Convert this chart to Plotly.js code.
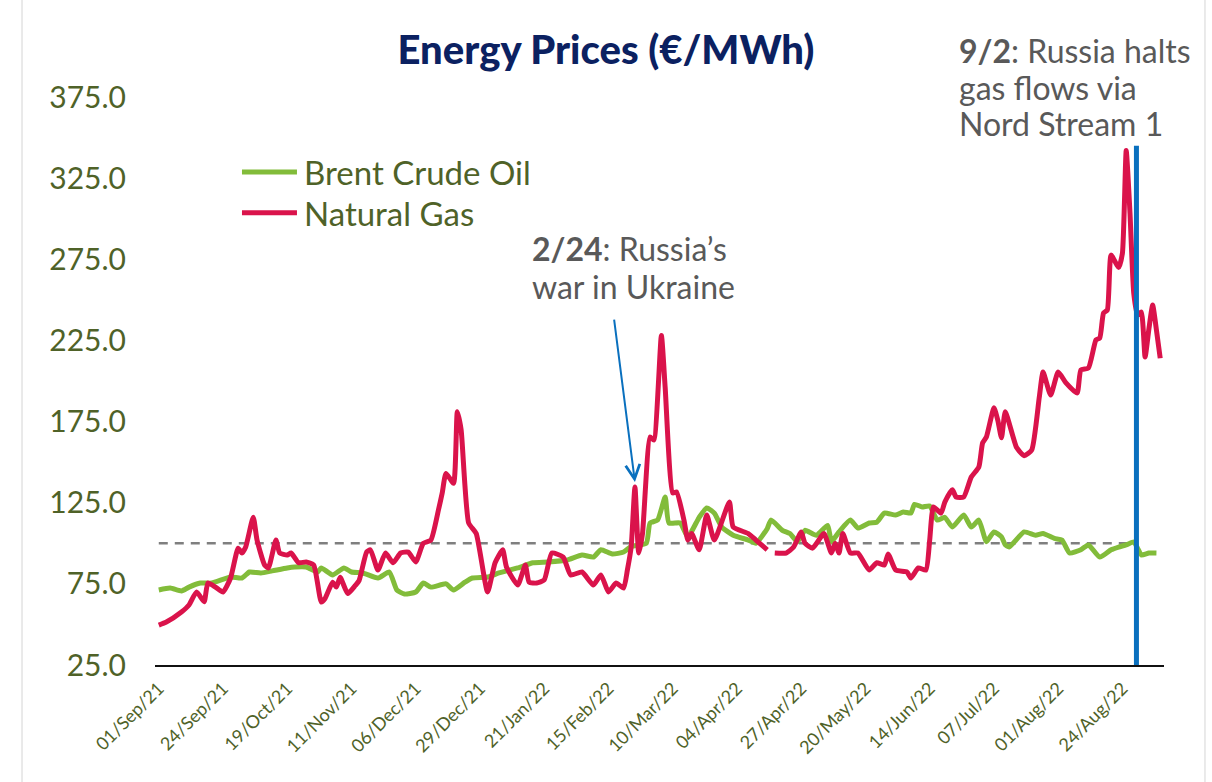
<!DOCTYPE html>
<html>
<head>
<meta charset="utf-8">
<script src="https://cdn.plot.ly/plotly-3.0.1.min.js"></script>
<style>
  html, body { margin: 0; padding: 0; background: #ffffff; }
  #chart { width: 1212px; height: 782px; }
</style>
</head>
<body>
<div id="chart"></div>
<script>
// ---------- data ----------
const gasDates = ['2021-09-01','2021-09-03','2021-09-09','2021-09-13','2021-09-15','2021-09-17','2021-09-20','2021-09-22','2021-09-24','2021-09-28',
'2021-09-30','2021-10-01','2021-10-04','2021-10-06','2021-10-07','2021-10-11','2021-10-12','2021-10-14','2021-10-15','2021-10-19',
'2021-10-20','2021-10-22','2021-10-26','2021-10-28','2021-11-01','2021-11-02','2021-11-04','2021-11-05','2021-11-08','2021-11-10',
'2021-11-12','2021-11-15','2021-11-17','2021-11-18','2021-11-22','2021-11-24','2021-11-26','2021-11-30','2021-12-02','2021-12-06',
'2021-12-08','2021-12-10','2021-12-14','2021-12-15','2021-12-16','2021-12-20','2021-12-21','2021-12-22','2021-12-24','2021-12-28',
'2021-12-31','2022-01-04','2022-01-06','2022-01-07','2022-01-12','2022-01-14','2022-01-17','2022-01-19','2022-01-21','2022-01-25',
'2022-01-28','2022-02-01','2022-02-04','2022-02-09','2022-02-11','2022-02-15','2022-02-17','2022-02-21','2022-02-22','2022-02-23',
'2022-02-24','2022-02-25','2022-02-28','2022-03-02','2022-03-03','2022-03-07','2022-03-08','2022-03-10','2022-03-11','2022-03-15',
'2022-03-16','2022-03-17','2022-03-21','2022-03-23','2022-03-25','2022-03-31','2022-04-01','2022-04-07','2022-04-11','2022-04-14',
'2022-04-15','2022-04-18','2022-04-21','2022-04-25','2022-04-27','2022-04-28','2022-05-02','2022-05-05','2022-05-09','2022-05-10',
'2022-05-11','2022-05-12','2022-05-16','2022-05-18','2022-05-23','2022-05-25','2022-05-27','2022-05-30','2022-06-01','2022-06-06',
'2022-06-07','2022-06-09','2022-06-13','2022-06-14','2022-06-15','2022-06-17','2022-06-20','2022-06-22','2022-06-23','2022-06-27',
'2022-06-29','2022-07-01','2022-07-04','2022-07-05','2022-07-07','2022-07-08','2022-07-11','2022-07-12','2022-07-15','2022-07-19',
'2022-07-21','2022-07-25','2022-07-26','2022-07-28','2022-08-01','2022-08-03','2022-08-08','2022-08-09','2022-08-11','2022-08-15',
'2022-08-16','2022-08-17','2022-08-18','2022-08-19','2022-08-23','2022-08-24','2022-08-25','2022-08-26','2022-08-29','2022-08-30',
'2022-08-31','2022-09-01','2022-09-02','2022-09-05','2022-09-06','2022-09-07'];
const gasValues = [49.6,51.5,57.7,62,70,64,75.5,73,70,78.6,
97,94,97.7,116,102,86.6,84.8,102,94,92.8,
94,88,88.5,86.6,63.8,66,76,73,79,69,
74,77,94.6,96,83.5,94,88,94,94.6,88.5,
100,102,120.5,131,143,137,181,170,112.5,106,
70,88,96,85.4,74.3,86.6,76,75.5,77.4,94,
91.5,80.5,82.3,74.3,80.5,70,75.5,72.4,83.5,97.7,
134.7,94,106,165.5,163.6,228,196,131,131.6,114,
102,106,96,117.4,102,125.4,110,106,102,96,
null,94,94,97.7,107,100,97,106,94,100,
94,106,94,94,83.5,88,86.6,93.4,83.5,82.3,
78.6,84.8,83.5,102,122.4,118.6,125.4,133,128.5,128.5,
140.8,147,161.8,165.5,183.5,176,165,181,159,154,
157.5,190,205.5,191.3,205.5,199,192.6,206.8,208,225.3,
226.5,241.9,243.7,277.6,270,278.8,342,303.5,254,240.6,
242.5,214.8,232,246.8,231.4,214];

const oilDates = ['2021-09-01','2021-09-06','2021-09-09','2021-09-13','2021-09-16','2021-09-21','2021-09-28','2021-10-01','2021-10-05','2021-10-08',
'2021-10-13','2021-10-19','2021-10-21','2021-10-26','2021-10-29','2021-11-01','2021-11-04','2021-11-09','2021-11-11','2021-11-16',
'2021-11-22','2021-11-25','2021-11-29','2021-12-01','2021-12-06','2021-12-08','2021-12-10','2021-12-16','2021-12-20','2021-12-23',
'2021-12-27','2021-12-31','2022-01-05','2022-01-12','2022-01-18','2022-01-24','2022-01-31','2022-02-04','2022-02-09','2022-02-11',
'2022-02-16','2022-02-21','2022-02-23','2022-03-01','2022-03-02','2022-03-04','2022-03-08','2022-03-09','2022-03-14','2022-03-16',
'2022-03-21','2022-03-23','2022-03-25','2022-03-29','2022-04-01','2022-04-07','2022-04-11','2022-04-14','2022-04-15','2022-04-20',
'2022-04-22','2022-04-26','2022-04-28','2022-05-03','2022-05-06','2022-05-09','2022-05-11','2022-05-16','2022-05-18','2022-05-23',
'2022-05-25','2022-05-27','2022-06-01','2022-06-03','2022-06-07','2022-06-08','2022-06-10','2022-06-14','2022-06-16','2022-06-20',
'2022-06-22','2022-06-27','2022-06-29','2022-07-01','2022-07-05','2022-07-07','2022-07-11','2022-07-12','2022-07-13','2022-07-19',
'2022-07-22','2022-07-26','2022-07-29','2022-08-02','2022-08-04','2022-08-09','2022-08-11','2022-08-16','2022-08-19','2022-08-23',
'2022-08-25','2022-08-29','2022-08-30','2022-08-31','2022-09-02','2022-09-06'];
const oilValues = [71.2,72.4,70.6,73,75.5,75.5,79.2,78.6,82.3,81.7,
83,84.8,85.4,85.4,82.3,84.8,80.5,84.8,82.3,81.7,
78.6,82.3,71.2,68.7,70,75.5,73,75,71.2,76,
78.6,79.2,81.7,84.8,88,88.5,89.7,92.8,91.5,96,
93.4,94.6,98,100,112.5,114.3,128.5,112.5,112.5,104,
116,121.7,118.6,110,105,102,100,109,114.3,108,
106,101,108,105,111,101,107,114.3,109.4,112.5,
113,118.6,117.4,119.3,118.6,124,122.4,123,114.3,116,
110,117.4,110,114.3,101,107,104,99,97.7,107,
105,106,103,102,94,96,99,91.5,96,97.7,
99,100.8,97,92.8,94,94];

const seriesNames = ['Brent Crude Oil', 'Natural Gas'];
const tickDates = ['2021-09-01','2021-09-24','2021-10-19','2021-11-11','2021-12-06','2021-12-29','2022-01-21','2022-02-15',
'2022-03-10','2022-04-04','2022-04-27','2022-05-20','2022-06-14','2022-07-07','2022-08-01','2022-08-24'];
const tickLabels = ['01/Sep/21','24/Sep/21','19/Oct/21','11/Nov/21','06/Dec/21','29/Dec/21','21/Jan/22','15/Feb/22',
'10/Mar/22','04/Apr/22','27/Apr/22','20/May/22','14/Jun/22','07/Jul/22','01/Aug/22','24/Aug/22'];
const referenceLevel = 100;
const warDate = '2022-02-24';
const warValue = 137.7;
const nordStreamMarker = '2022-08-29 17:00';
const warNote = ['<b>2/24</b>: Russia’s', 'war in Ukraine'];
const nordNote = ['<b>9/2</b>: Russia halts', 'gas flows via', 'Nord Stream 1'];

// ---------- style ----------
const GREEN = '#82BC3A';
const RED = '#DA134B';
const OLIVE = '#4F6228';
const GRAY = '#595959';
const BLUE = '#0A70BE';
const FONT = 'Lato, "Open Sans", sans-serif';

const traces = [
  { x: oilDates, y: oilValues, name: seriesNames[0], type: 'scatter', mode: 'lines',
    line: { color: GREEN, width: 5, shape: 'spline', smoothing: 0.5 }, connectgaps: false, showlegend: false },
  { x: gasDates, y: gasValues, name: seriesNames[1], type: 'scatter', mode: 'lines',
    line: { color: RED, width: 5, shape: 'spline', smoothing: 0.5 }, connectgaps: false, showlegend: false }
];

const annotations = [
  { xref: 'paper', yref: 'paper', x: 0.1457, y: 0.868, xanchor: 'left', yanchor: 'middle', showarrow: false,
    text: seriesNames[0], font: { family: FONT, size: 33, color: OLIVE } },
  { xref: 'paper', yref: 'paper', x: 0.1457, y: 0.796, xanchor: 'left', yanchor: 'middle', showarrow: false,
    text: seriesNames[1], font: { family: FONT, size: 33, color: OLIVE } },
  { xref: 'x', yref: 'y', x: warDate, y: warValue, text: '', showarrow: true,
    axref: 'pixel', ayref: 'pixel', ax: -21, ay: -164,
    arrowhead: 5, arrowsize: 1.4, arrowwidth: 2, arrowcolor: BLUE, standoff: 0 }
];
const warY = [0.7325, 0.6656];
warNote.forEach((t, i) => annotations.push({ xref: 'paper', yref: 'paper', x: 0.372, y: warY[i], xanchor: 'left',
  yanchor: 'middle', showarrow: false, text: t, font: { family: FONT, size: 32, color: GRAY } }));
const nordY = [1.0827, 1.0176, 0.9542];
nordNote.forEach((t, i) => annotations.push({ xref: 'paper', yref: 'paper', x: 0.7948, y: nordY[i], xanchor: 'left',
  yanchor: 'middle', showarrow: false, text: t, font: { family: FONT, size: 32, color: GRAY } }));

const layout = {
  width: 1212, height: 782,
  paper_bgcolor: '#ffffff', plot_bgcolor: '#ffffff',
  margin: { l: 155, r: 48, t: 97, b: 117 },
  font: { family: FONT, color: OLIVE },
  title: { text: 'Energy Prices (€/MWh)', font: { family: FONT, size: 40, color: '#0B2161', weight: 900 },
           x: 0.5, xref: 'container', xanchor: 'center', y: 0.936, yref: 'container', yanchor: 'middle' },
  xaxis: {
    type: 'date',
    range: ['2021-08-31', '2022-09-08'],
    rangebreaks: [{ bounds: ['sat', 'mon'] }],
    tickmode: 'array', tickvals: tickDates, ticktext: tickLabels,
    tickangle: -45, tickfont: { family: FONT, size: 18, color: OLIVE },
    showgrid: false, zeroline: false, ticks: '',
    showline: true, linecolor: '#111111', linewidth: 2,
    ticklabelstandoff: 4
  },
  yaxis: {
    range: [25, 375], tick0: 25, dtick: 50, tickformat: '.1f',
    tickfont: { family: FONT, size: 30, color: OLIVE },
    showgrid: false, zeroline: false, showline: false, ticks: '',
    ticklabelstandoff: 28
  },
  shapes: [
    { type: 'line', xref: 'x', yref: 'y', x0: gasDates[0], x1: nordStreamMarker, y0: referenceLevel, y1: referenceLevel,
      line: { color: '#7F7F7F', width: 2.5, dash: '9px,7px' }, layer: 'below' },
    { type: 'line', xref: 'x', yref: 'y', x0: nordStreamMarker, x1: nordStreamMarker, y0: 25, y1: 345,
      line: { color: BLUE, width: 5 } },
    { type: 'line', xref: 'paper', yref: 'paper', x0: 0.0862, x1: 0.1407, y0: 0.868, y1: 0.868,
      line: { color: GREEN, width: 5 } },
    { type: 'line', xref: 'paper', yref: 'paper', x0: 0.0862, x1: 0.1407, y0: 0.796, y1: 0.796,
      line: { color: RED, width: 5 } },
    { type: 'line', xref: 'paper', yref: 'paper', x0: -0.1318, x1: -0.1318, y0: -0.21, y1: 1.18,
      line: { color: '#E3E3E3', width: 1.5 } },
    { type: 'line', xref: 'paper', yref: 'paper', x0: 1.0406, x1: 1.0406, y0: -0.21, y1: 1.18,
      line: { color: '#E3E3E3', width: 1.5 } }
  ],
  annotations: annotations
};

Plotly.newPlot('chart', traces, layout, { displayModeBar: false, staticPlot: true });
</script>
</body>
</html>
